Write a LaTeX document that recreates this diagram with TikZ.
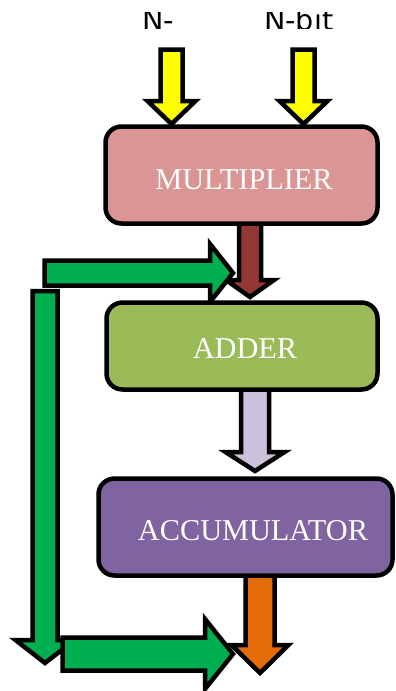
\documentclass[tikz,border=0pt]{standalone}
\usepackage{fontspec}
\newfontfamily\boxfont{Liberation Serif}
\newfontfamily\topfont{DejaVu Sans}
\definecolor{multfill}{HTML}{D99694}
\definecolor{adderfill}{HTML}{9BBB59}
\definecolor{accfill}{HTML}{8064A2}
\definecolor{lavarrow}{HTML}{CCC1DA}
\definecolor{brownarrow}{HTML}{953735}
\definecolor{orangearrow}{HTML}{E46C0A}
\definecolor{greenarrow}{HTML}{00B050}
\definecolor{yellowarrow}{HTML}{FFFF00}
\tikzset{
  blockbox/.style={draw=black, line width=4.5pt, rounded corners=16pt, inner sep=0pt},
  blockarrow/.style={draw=black, line width=4.5pt, line join=miter},
  boxtext/.style={text=white, font=\boxfont\fontsize{30.3}{36}\selectfont, anchor=base, inner sep=0pt},
  toptext/.style={text=black, font=\topfont\fontsize{28.6}{34}\selectfont, anchor=base west, inner sep=0pt}
}
% down arrow: x, ytop, yhead, ytip, shaft half, head half, colour
\newcommand\myDownArrow[7]{%
  \filldraw[blockarrow, fill=#7] ({#1-#5},#2) -- ({#1+#5},#2) -- ({#1+#5},#3) -- ({#1+#6},#3) -- (#1,#4) -- ({#1-#6},#3) -- ({#1-#5},#3) -- cycle;}
% right arrow: y, xleft, xhead, xtip, shaft half, head half, colour
\newcommand\myRightArrow[7]{%
  \filldraw[blockarrow, fill=#7] (#2,{#1-#5}) -- (#3,{#1-#5}) -- (#3,{#1-#6}) -- (#4,#1) -- (#3,{#1+#6}) -- (#3,{#1+#5}) -- (#2,{#1+#5}) -- cycle;}
\begin{document}
\begin{tikzpicture}[x=1pt,y=-1pt]
\useasboundingbox (0,0) rectangle (396,691);
\fill[white] (0,0) rectangle (396,691);

% top labels (only a band of them shows, as in the reference)
\begin{scope}
  \clip (0,12.5) rectangle (396,28);
  \node[toptext] (in1) at (142,30.5) {N-};
  \node[toptext] (in2) at (264,30.5) {N-bit};
\end{scope}

% input arrows
\myDownArrow{171.5}{49.5}{101}{124}{11}{24}{yellowarrow}
\myDownArrow{303.5}{49.5}{101}{124}{11}{24}{yellowarrow}

% multiplier -> adder
\myDownArrow{250}{220}{280}{297}{11}{24}{brownarrow}
% feedback upper green arrow
\myRightArrow{273}{44.5}{210}{233}{12.5}{29}{greenarrow}
% adder -> accumulator
\myDownArrow{255}{385}{452}{471}{14}{29.5}{lavarrow}
% feedback vertical
\myDownArrow{45}{291}{640}{663}{12.5}{29.5}{greenarrow}
% feedback lower horizontal
\myRightArrow{654}{62.5}{205}{233}{16.5}{35}{greenarrow}
% accumulator output
\myDownArrow{260}{570}{645}{673}{14.5}{28.5}{orangearrow}

% blocks
\node[blockbox, fill=multfill, minimum width=272pt, minimum height=97pt] (mult) at (241.5,175) {};
\node[blockbox, fill=adderfill, minimum width=271pt, minimum height=87pt] (adder) at (242,346) {};
\node[blockbox, fill=accfill, minimum width=294pt, minimum height=97pt] (acc) at (245.5,527) {};

\node[boxtext] (multtxt) at (244,189) {MULTIPLIER};
\node[boxtext] (addertxt) at (245,358) {ADDER};
\node[boxtext] (acctxt) at (253,540) {ACCUMULATOR};
\end{tikzpicture}
\end{document}
